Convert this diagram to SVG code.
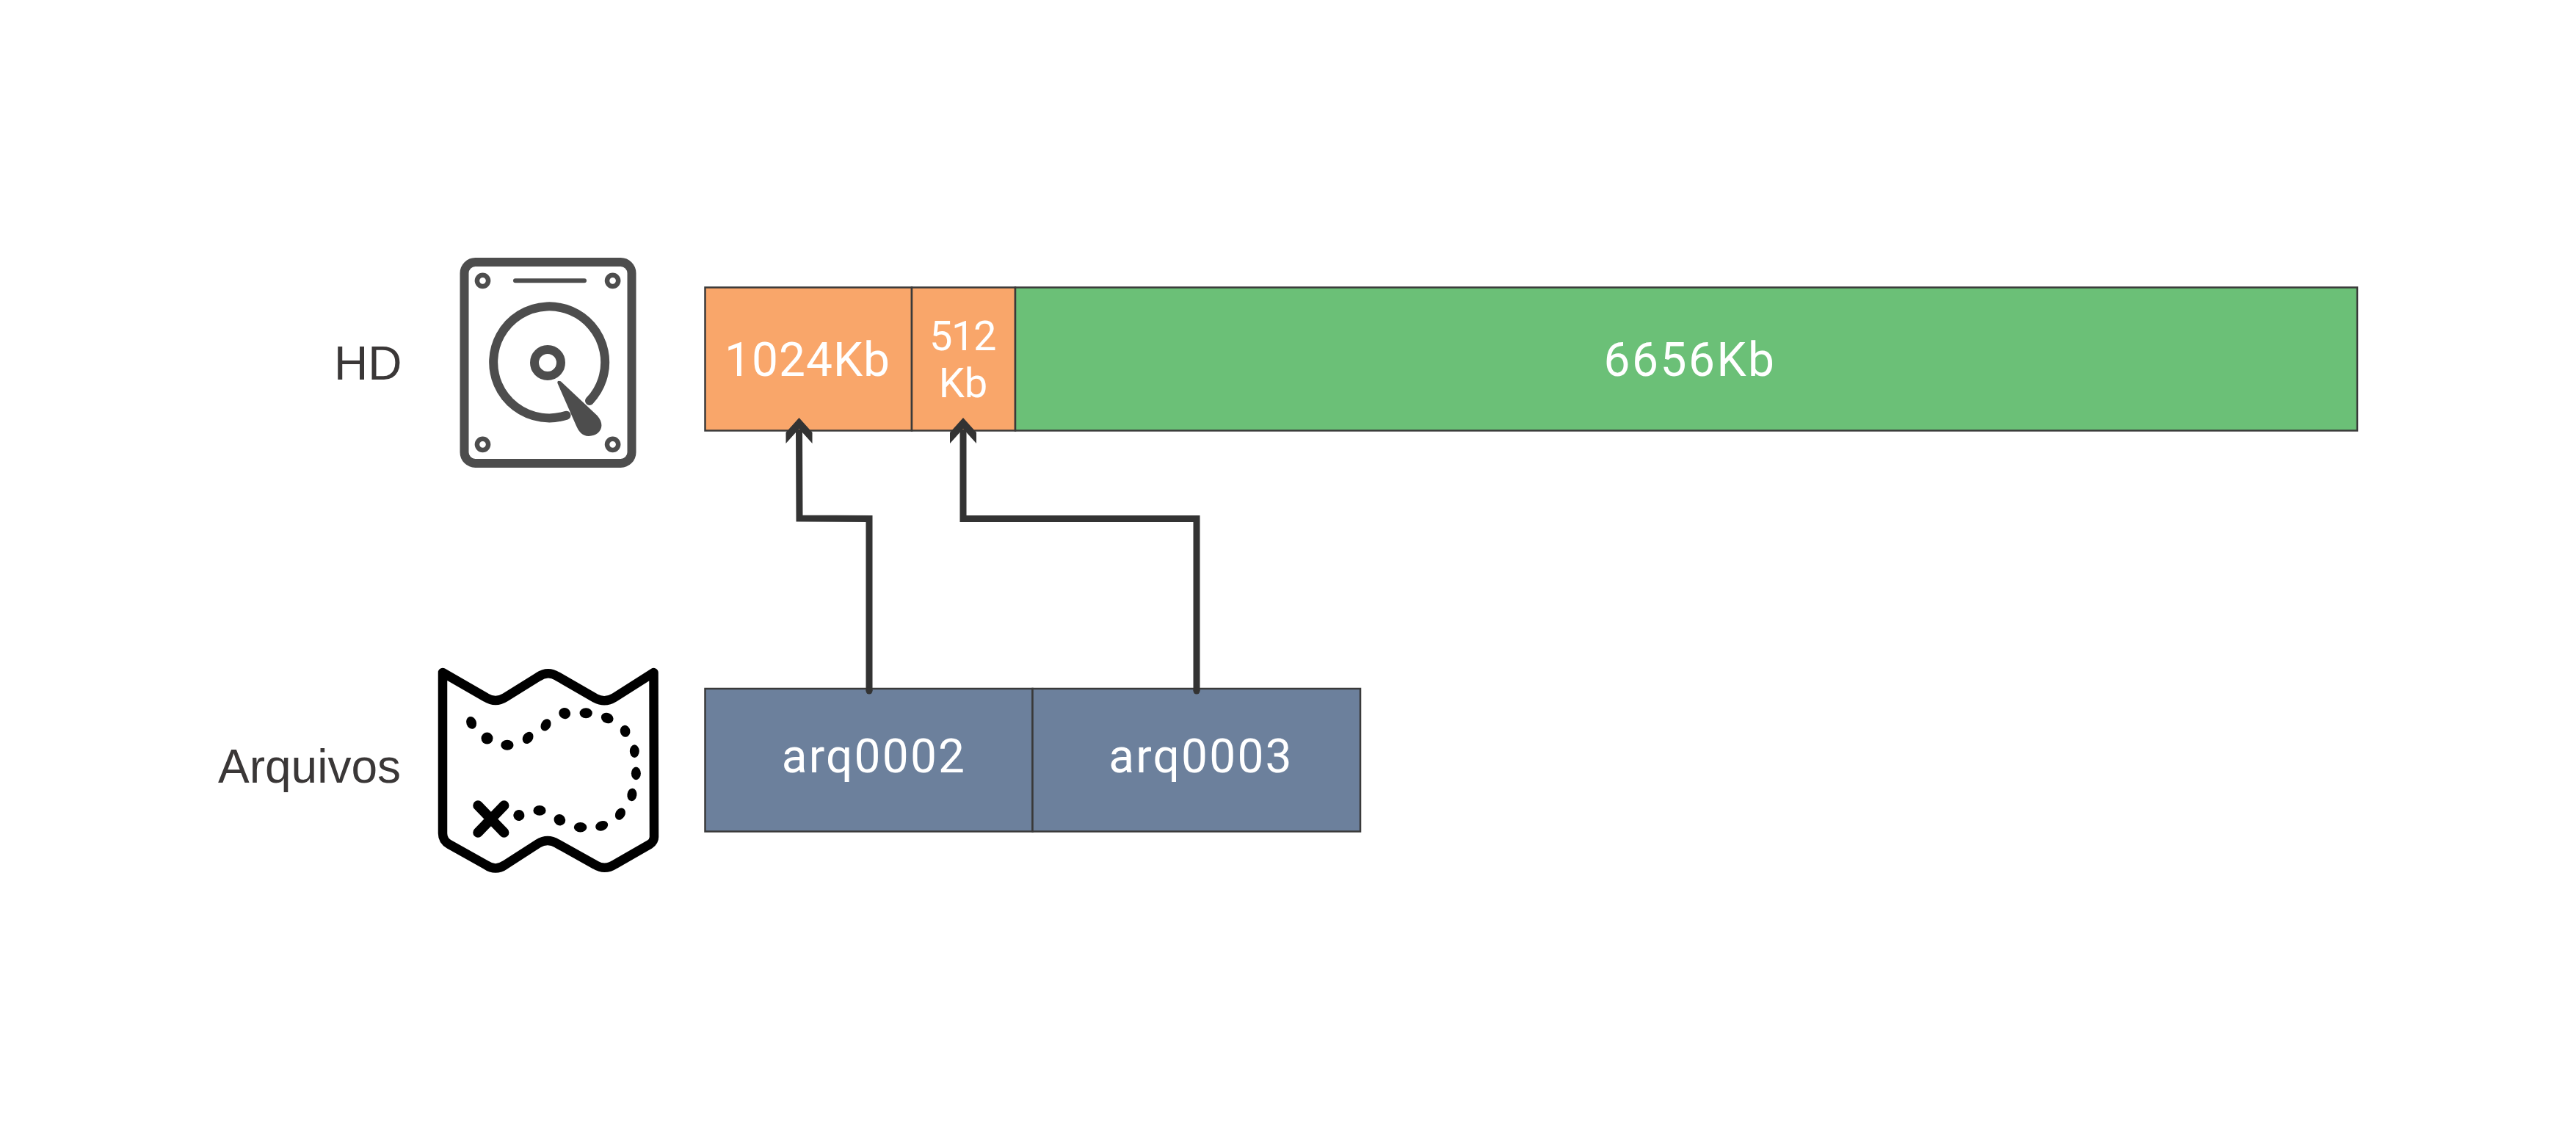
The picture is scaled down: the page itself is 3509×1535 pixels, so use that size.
<svg xmlns="http://www.w3.org/2000/svg" width="3509" height="1535" viewBox="0 0 3509 1535">
<defs>
<style>
.cell{stroke:#3a3a3a;stroke-width:2.5}
.or{fill:#f9a66a}.gr{fill:#6bc077}.bl{fill:#6c809c}
.lb{font-family:Roboto,"Liberation Sans",sans-serif;font-size:64px;fill:#fff;text-anchor:middle}
.side{font-family:"Liberation Sans",Arial,sans-serif;font-size:64px;fill:#3a3737}
.ic{fill:none;stroke:#4d4d4d;stroke-linecap:round}
.conn{fill:none;stroke:#333;stroke-linejoin:miter}
.dot{fill:#000}
</style>
<polygon id="head" points="0,0 18,20 18,35 0,15 -18,35 -18,20" fill="#333"/>
</defs>
<rect width="3509" height="1535" fill="#fff"/>

<g id="label-hd"><text class="side" x="455" y="516.5">HD</text></g>
<g id="label-arquivos"><text class="side" x="297" y="1066">Arquivos</text></g>

<g id="icon-hd">
<rect class="ic" x="632.5" y="357" width="228" height="274" rx="15" stroke-width="12"/>
<circle class="ic" cx="657.5" cy="382.3" r="7.6" stroke-width="6.5"/>
<circle class="ic" cx="834.6" cy="382.3" r="7.6" stroke-width="6.5"/>
<circle class="ic" cx="657.5" cy="605.3" r="7.6" stroke-width="6.5"/>
<circle class="ic" cx="834.6" cy="605.3" r="7.6" stroke-width="6.5"/>
<line class="ic" x1="702" y1="382.3" x2="796" y2="382.3" stroke-width="6"/>
<path class="ic" d="M803 546A76 76 0 1 0 771.5 565.7" stroke-width="12"/>
<circle class="ic" cx="746" cy="494" r="18" stroke-width="12"/>
<path fill="#4d4d4d" d="M759.5 522Q758.5 517 764 519.5L813.5 566C826 580 817 594 802 594C793 594 788 587 785 580Z"/>
</g>

<g id="icon-arquivos">
<path fill="none" stroke="#000" stroke-width="12.5" stroke-linejoin="round" d="M603 916L662 950Q675 958 688 950L733 922Q746 913 759 921L811 951Q824 958 837 950L890.5 916L891 1140Q891 1146 885 1150L838 1177Q824 1186 811 1178L759 1149Q746 1141 733 1149L688 1178Q675 1187 662 1178L612 1150Q603 1145 603 1135Z"/>
<g class="dot">
<ellipse cx="642.1" cy="984.4" rx="6.8" ry="8.6" transform="rotate(-20 642.1 984.4)"/>
<ellipse cx="663.5" cy="1005.6" rx="8" ry="8"/>
<ellipse cx="690.9" cy="1014.7" rx="8.6" ry="7"/>
<ellipse cx="719.1" cy="1004.9" rx="6.8" ry="8.6" transform="rotate(35 719.1 1004.9)"/>
<ellipse cx="743.5" cy="987.4" rx="6.5" ry="8.6" transform="rotate(30 743.5 987.4)"/>
<ellipse cx="769.2" cy="971.6" rx="8" ry="7.5" transform="rotate(30 769.2 971.6)"/>
<ellipse cx="798.2" cy="971.2" rx="8.6" ry="7"/>
<ellipse cx="827.2" cy="978" rx="8.6" ry="7" transform="rotate(25 827.2 978)"/>
<ellipse cx="851.6" cy="995.8" rx="6.8" ry="8" transform="rotate(-10 851.6 995.8)"/>
<ellipse cx="864.3" cy="1023.1" rx="6.5" ry="8.8"/>
<ellipse cx="866.4" cy="1053.4" rx="6.5" ry="8.8"/>
<ellipse cx="860.9" cy="1082.4" rx="6.5" ry="8.8" transform="rotate(8 860.9 1082.4)"/>
<ellipse cx="844.9" cy="1108.6" rx="6.5" ry="8.6" transform="rotate(30 844.9 1108.6)"/>
<ellipse cx="819.7" cy="1124.8" rx="8.8" ry="6.5" transform="rotate(-20 819.7 1124.8)"/>
<ellipse cx="790.6" cy="1126.8" rx="8.8" ry="6.8"/>
<ellipse cx="762.4" cy="1116.7" rx="8" ry="7.5" transform="rotate(40 762.4 1116.7)"/>
<ellipse cx="735" cy="1103.9" rx="8.6" ry="6.8"/>
<ellipse cx="706.9" cy="1110.6" rx="7.5" ry="7.5" transform="rotate(30 706.9 1110.6)"/>
</g>
<path fill="none" stroke="#000" stroke-width="13.5" stroke-linecap="round" d="M651 1097L686.7 1134M686.7 1097L651 1134"/>
</g>

<g id="cell-1024">
<rect class="cell or" x="960.5" y="391.5" width="281.5" height="195"/>
<text class="lb" x="1100" y="511.7" letter-spacing="1">1024Kb</text>
</g>
<g id="cell-512">
<rect class="cell or" x="1242" y="391.5" width="141" height="195"/>
<text class="lb" x="1311" y="477" style="font-size:56px" letter-spacing="-1.5">512</text>
<text class="lb" x="1312" y="540.7" style="font-size:56px">Kb</text>
</g>
<g id="cell-6656">
<rect class="cell gr" x="1383" y="391.5" width="1828" height="195"/>
<text class="lb" x="2302" y="511.7" letter-spacing="2.5">6656Kb</text>
</g>
<g id="cell-arq0002">
<rect class="cell bl" x="960.5" y="938" width="446" height="194.5"/>
<text class="lb" x="1190.5" y="1051.7" letter-spacing="2.2">arq0002</text>
</g>
<g id="cell-arq0003">
<rect class="cell bl" x="1406.5" y="938" width="446.5" height="194.5"/>
<text class="lb" x="1636" y="1051.7" letter-spacing="2.2">arq0003</text>
</g>

<g id="connectors">
<path class="conn" stroke-width="9" d="M1184 941L1184 706.5L1089 706L1088.5 585"/>
<path class="conn" stroke-width="9" d="M1630 941L1630 706.5L1312 706.5L1312 585"/>
<circle cx="1184" cy="941" r="4.5" fill="#333"/>
<circle cx="1630" cy="941" r="4.5" fill="#333"/>
<use href="#head" x="1088.5" y="569"/>
<use href="#head" x="1312" y="569"/>
</g>
</svg>
